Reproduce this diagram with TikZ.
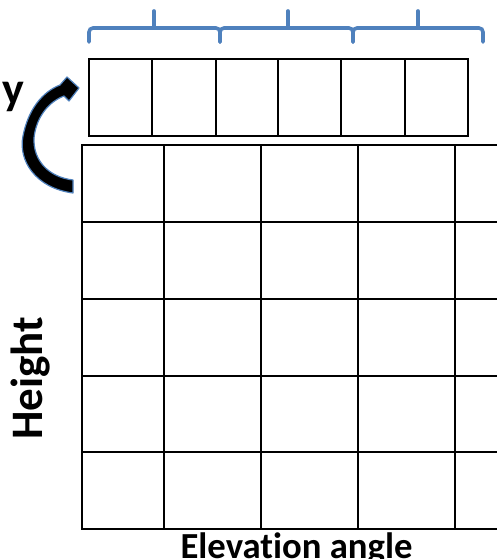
\documentclass[tikz,border=0pt]{standalone}
\usepackage{fontspec}
\setmainfont{Carlito}[Ligatures=NoCommon]
\definecolor{braceblue}{RGB}{79,129,189}
\tikzset{
  gridline/.style={line width=1.8pt, black, line cap=rect},
  bracel/.style={line width=3.6pt, braceblue, rounded corners=4pt, line cap=round},
  lbl/.style={font=\bfseries, inner sep=0pt, anchor=base},
}
\begin{document}
\begin{tikzpicture}[x=1pt,y=-1pt]
\useasboundingbox (0,0) rectangle (497,559);
\clip (0,0) rectangle (497,559);
\fill[white] (0,0) rectangle (497,559);
% brace
\draw[bracel] (89,42) -- (89,28) -- (220,28) -- (220,42);
\draw[bracel] (220,42) -- (220,28) -- (353,28) -- (353,42);
\draw[bracel] (353,42) -- (353,28) -- (483,28) -- (483,42);
\foreach \t in {154,288,418} \draw[bracel] (\t,28) -- (\t,11);
% top strip
\draw[gridline] (89,59) rectangle (468,136);
\foreach \x in {152,216,278,341,405} \draw[gridline] (\x,59) -- (\x,136);
% big grid
\foreach \y in {145,222,299,376,452,529} \draw[gridline] (82,\y) -- (505,\y);
\foreach \x in {82,164,261,358,455} \draw[gridline] (\x,145) -- (\x,529);
% curved arrow
\draw[fill=black, draw=braceblue, line width=1.2pt, line join=round]
  (73,193) .. controls (35,188) and (18,160) .. (23,136)
  .. controls (28,110) and (42,92) .. (60,85)
  -- (67,77) -- (79,88) -- (69,101) -- (64,96)
  .. controls (48,102) and (36,118) .. (34,138)
  .. controls (33,160) and (48,177) .. (73,180) -- cycle;
% labels
\node[lbl, font=\bfseries\fontsize{46}{46}\selectfont] (ylab) at (13,104.5) {y};
\node[lbl, font=\bfseries\fontsize{45}{45}\selectfont, rotate=90] (hlab) at (42,378.5) {Height};
\node[lbl, font=\bfseries\fontsize{36.7}{36.7}\selectfont] (elab) at (296.5,558.6) {Elevation angle};
\end{tikzpicture}
\end{document}
